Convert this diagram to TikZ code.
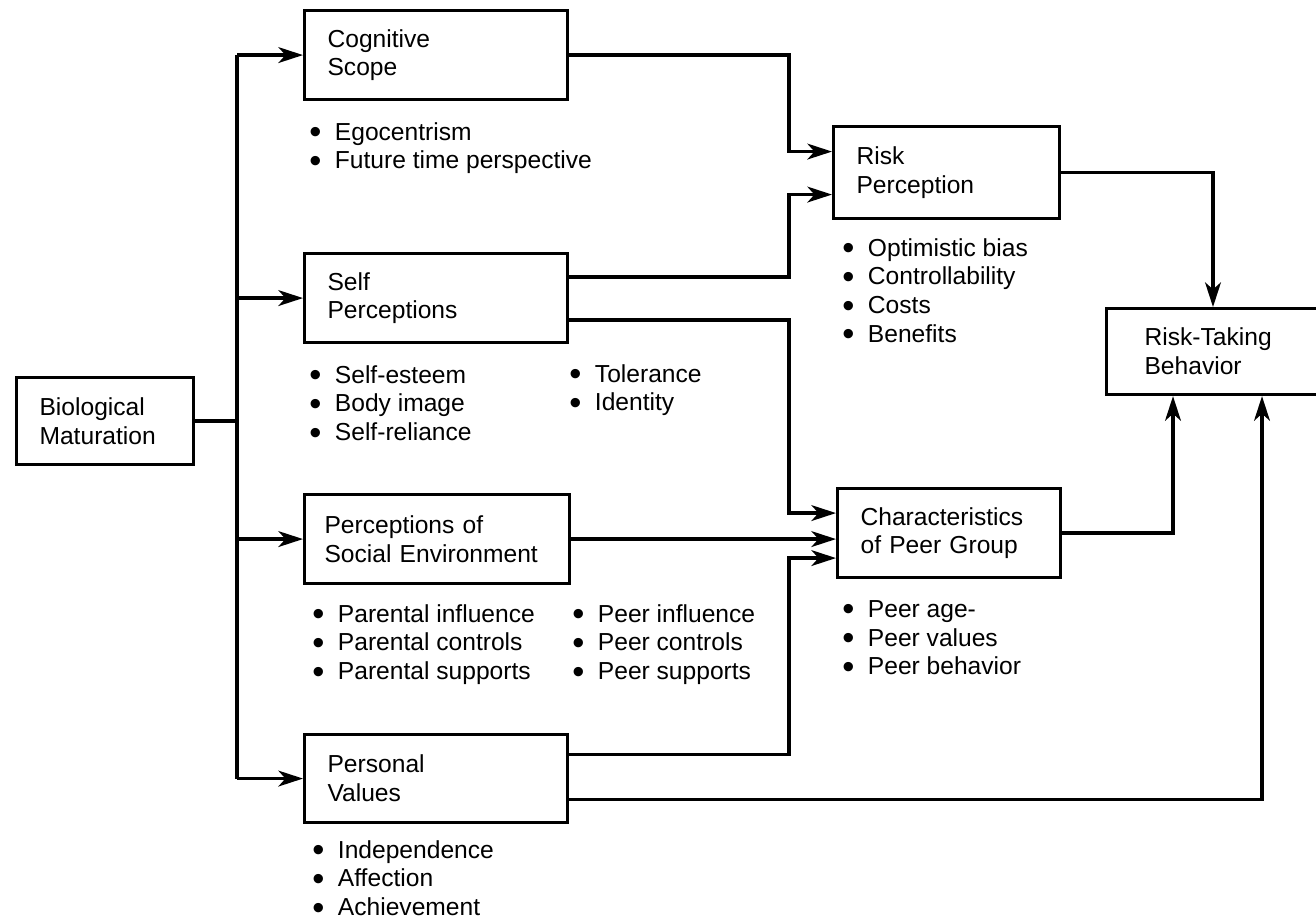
\documentclass[tikz,border=0pt]{standalone}
\usepackage{fontspec}
\setmainfont{Liberation Sans}
\usetikzlibrary{arrows.meta, positioning, calc}

\newcommand{\bul}{\makebox[1.04em][l]{\smash{\raisebox{-0.13em}{\scalebox{1.4}{\textbullet}}}}}

\begin{document}
\begin{tikzpicture}[x=0.02cm, y=-0.02cm,
        box/.style={
            rectangle,
            draw,
            line width=1.8pt,
            anchor=north west,
            align=left,
            inner xsep=0.46cm,
            minimum height=1.78cm,
            font=\fontsize{14}{16.4}\selectfont
        },
        items/.style={anchor=north west, align=left, inner sep=0pt, font=\fontsize{14}{16.4}\selectfont},
        link/.style={line width=1.8pt},
        arrow/.style={link, -{Stealth[length=14pt, width=9pt, inset=4pt]}}
    ]
        \useasboundingbox (0,0) rectangle (1316,922);

        \node[box, text width=2.62cm, minimum height=1.74cm] (bio) at (15,376) {Biological\\Maturation};
        \node[box, text width=4.34cm] (cog) at (303,9) {Cognitive\\Scope};
        \node[box, text width=4.34cm] (self) at (303,252) {Self\\Perceptions};
        \node[box, text width=4.5cm, inner xsep=0.4cm] (social) at (303,493) {Perceptions of\\Social Environment};
        \node[box, text width=4.34cm, minimum height=1.76cm] (values) at (303,733) {Personal\\Values};
        \node[box, text width=3.60cm, minimum height=1.84cm] (risk) at (832,125) {Risk\\Perception};
        \node[box, text width=3.54cm] (peer) at (836,487) {Characteristics\\of Peer Group};
        \node[box, text width=3.28cm, inner xsep=0.76cm, minimum height=1.72cm] (behav) at (1105,307) {Risk-Taking\\Behavior};

        \node[items] (cog list) at (309,122) {\bul Egocentrism\\\bul Future time perspective};
        \node[items] (self list) at (309,365) {\bul Self-esteem\\\bul Body image\\\bul Self-reliance};
        \node[items] (self list2) at (569,364) {\bul Tolerance\\\bul Identity};
        \node[items] (social list) at (312,604) {\bul Parental influence\\\bul Parental controls\\\bul Parental supports};
        \node[items] (social list2) at (572,604) {\bul Peer influence\\\bul Peer controls\\\bul Peer supports};
        \node[items] (values list) at (312,840) {\bul Independence\\\bul Affection\\\bul Achievement};
        \node[items] (risk list) at (842,238) {\bul Optimistic bias\\\bul Controllability\\\bul Costs\\\bul Benefits};
        \node[items] (peer list) at (842,600) {\bul Peer age-\\\bul Peer values\\\bul Peer behavior};

        \coordinate (trunk) at (237,0);
        \coordinate (mid) at (789,0);
        \coordinate (col1) at (1173,0);
        \coordinate (col2) at (1262,0);
        \coordinate (col3) at (1213,0);

        \coordinate (risk in1) at ($(risk.west)+(0,-21)$);
        \coordinate (risk in2) at ($(risk.west)+(0,22)$);
        \coordinate (peer in1) at ($(peer.west)+(0,-20)$);
        \coordinate (peer in3) at ($(peer.west)+(0,25)$);
        \coordinate (self out1) at ($(self.east)+(0,-21)$);
        \coordinate (self out2) at ($(self.east)+(0,22)$);
        \coordinate (values out1) at ($(values.east)+(0,-24)$);
        \coordinate (values out2) at ($(values.east)+(0,21)$);

        \draw[link] (bio.east) -- (bio.east -| trunk);
        \draw[link] (cog.west -| trunk) -- (values.west -| trunk);
        \foreach \n in {cog, self, social, values}
            \draw[arrow] (\n.west -| trunk) -- (\n.west);

        \draw[arrow] (cog.east) -| (mid |- risk in1) -- (risk in1);
        \draw[arrow] (self out1) -| (mid |- risk in2) -- (risk in2);
        \draw[arrow] (self out2) -| (mid |- peer in1) -- (peer in1);
        \draw[arrow] (social.east) -- (social.east -| peer.west);
        \draw[arrow] (values out1) -| (mid |- peer in3) -- (peer in3);
        \draw[arrow] (values out2) -| (col2 |- behav.south);
        \draw[arrow] (peer.east) -| (col1 |- behav.south);
        \draw[arrow] (risk.east) -| (col3 |- behav.north);
\end{tikzpicture}
\end{document}
